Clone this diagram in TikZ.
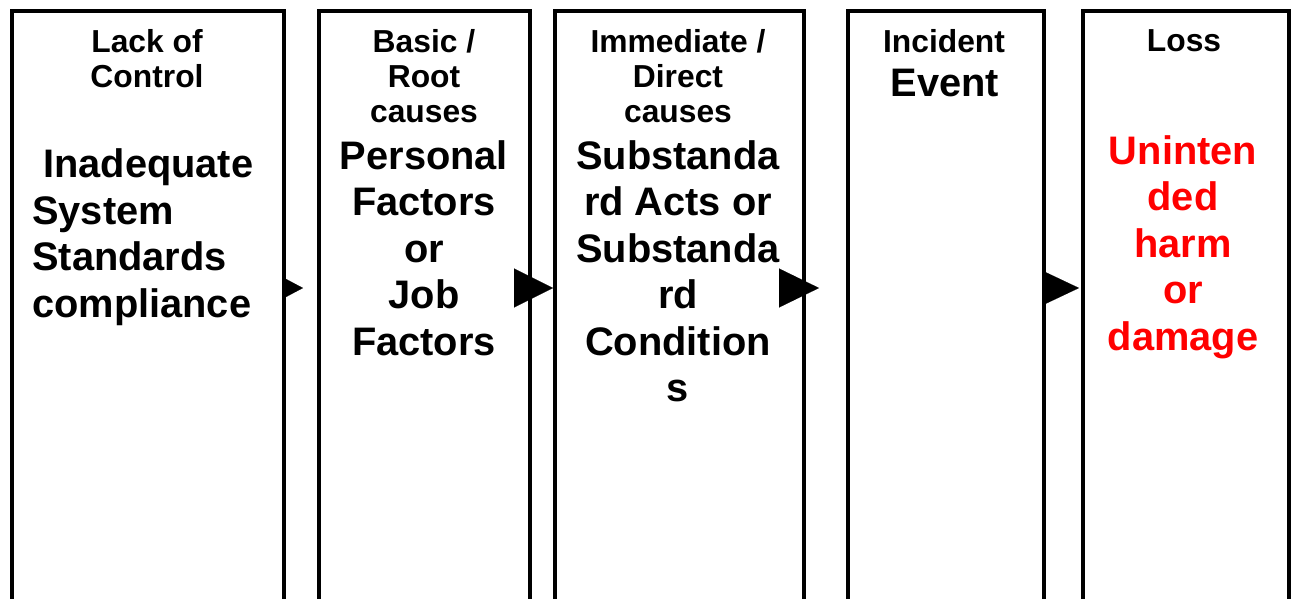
\documentclass[tikz,border=0pt]{standalone}
\usepackage{fontspec}
\setmainfont{Liberation Sans}
\usetikzlibrary{arrows.meta,calc}
\begin{document}
\begin{tikzpicture}[x=1pt,y=-1pt,
  box/.style={draw=black,line width=4pt,minimum width=#1,minimum height=640pt,
              anchor=north west,inner sep=0pt,outer sep=0pt},
  hdr/.style={font=\bfseries\fontsize{31.8}{35}\selectfont,align=center,anchor=north,inner sep=0pt},
  body/.style={font=\bfseries\fontsize{39.8}{46.5}\selectfont,align=center,anchor=north,inner sep=0pt},
  conn/.style={line width=0.1pt,draw=black,fill=black}]
\useasboundingbox (0,0) rectangle (1292,599);
% boxes (open at the bottom edge of the picture)
\node[box=272pt] (b1) at (12,11) {};
\node[box=211pt] (b2) at (319,11) {};
\node[box=249pt] (b3) at (555,11) {};
\node[box=196pt] (b4) at (848,11) {};
\node[box=206pt] (b5) at (1083,11) {};
% headers
\node[hdr] (h1) at (147,29.5) {Lack of\\Control};
\node[hdr] (h2) at (424,29.5) {Basic /\\Root\\causes};
\node[hdr] (h3) at (678,29.5) {Immediate /\\Direct\\causes};
\node[hdr] (h4) at (944,29.5) {Incident};
\node[hdr] (h5) at (1184,29.5) {Loss};
% body texts
\node[body,align=left,anchor=north west] (m1) at (32,148.5)
  {\ Inadequate\\System\\Standards\\compliance};
\node[body] (m2) at (424,140) {Personal\\Factors\\or\\Job\\Factors};
\node[body] (m3) at (678,140) {Substanda\\rd Acts or\\Substanda\\rd\\Condition\\s};
\node[body] (m4) at (945,68.5) {Event};
\node[body,text=red] (m5) at (1183,135) {Uninten\\ded\\harm\\or\\damage};
% connectors
\coordinate (ay) at (0,288);
\draw[conn,-{Triangle[length=18pt,width=19pt]}]
  ($(b1.east |- ay)+(1,0)$) -- ($(b1.east |- ay)+(19,0)$);
\draw[conn,-{Triangle[length=39pt,width=39pt]}]
  ($(b2.east |- ay)+(-16,0)$) -- ($(b3.west |- ay)+(-2,0)$);
\draw[conn,-{Triangle[length=40pt,width=39pt]}]
  ($(b3.east |- ay)+(-25,0)$) -- ($(b3.east |- ay)+(15,0)$);
\draw[conn,-{Triangle[length=37pt,width=35pt]}]
  ($(b4.east |- ay)+(-2,0)$) -- ($(b5.west |- ay)+(-4,0)$);
\end{tikzpicture}
\end{document}
